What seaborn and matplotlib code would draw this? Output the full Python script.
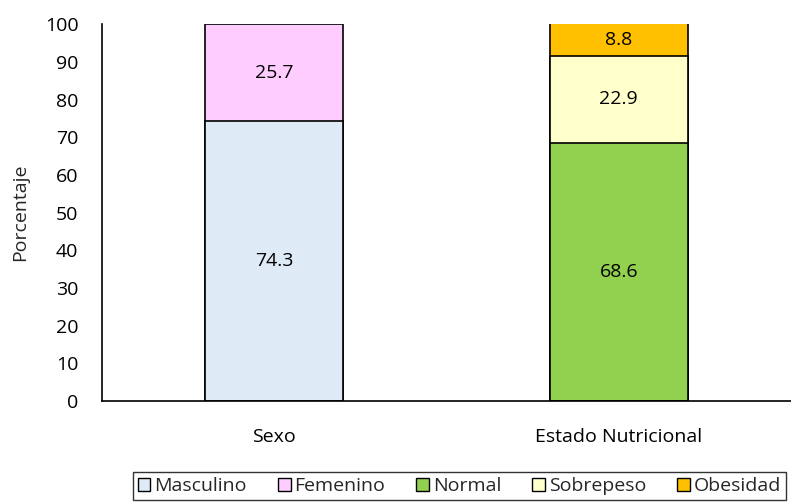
import matplotlib
matplotlib.use("Agg")
import matplotlib.pyplot as plt
from matplotlib.patches import Patch
import seaborn as sns
import pandas as pd

groups = ["Sexo", "Estado Nutricional"]
series = ["Masculino", "Femenino", "Normal", "Sobrepeso", "Obesidad"]
series_group = ["Sexo", "Sexo", "Estado Nutricional", "Estado Nutricional", "Estado Nutricional"]
values = [74.3, 25.7, 68.6, 22.9, 8.8]
colors = ["#DEEBF7", "#FFCCFF", "#92D050", "#FFFFCC", "#FFC000"]

sns.set_theme(style="white")
plt.rcParams["font.family"] = ["Open Sans", "DejaVu Sans"]
FS = 14

# Build a long table with cumulative tops for stacking
df = pd.DataFrame({"group": series_group, "serie": series, "value": values})
df["top"] = df.groupby("group")["value"].cumsum()
df["bottom"] = df["top"] - df["value"]

fig = plt.figure(figsize=(7.91, 5.04), dpi=100)
ax = fig.add_axes([0.129, 0.204, 0.871, 0.748])

# Draw tallest cumulative bars first so lower segments overlay them
for i in reversed(range(len(series))):
    sub = df[df["serie"] == series[i]]
    sns.barplot(data=sub, x="group", y="top", order=groups, color=colors[i],
                width=0.4, edgecolor="black", linewidth=1.2, saturation=1, ax=ax)

for _, row in df.iterrows():
    xi = groups.index(row["group"])
    mid = (row["bottom"] + min(row["top"], 100)) / 2
    ax.text(xi, mid, f"{row['value']:.1f}", ha="center", va="center", fontsize=FS, color="black")

ax.set_xlim(-0.5, 1.5)
ax.set_ylim(0, 100)
ax.set_yticks(range(0, 101, 10))
ax.set_xlabel("")
ax.set_ylabel("Porcentaje", fontsize=FS, labelpad=11)
ax.tick_params(axis="both", length=0, labelsize=FS, colors="black")
ax.tick_params(axis="x", pad=19)
ax.tick_params(axis="y", pad=17)
for s in ["top", "right"]:
    ax.spines[s].set_visible(False)
for s in ["left", "bottom"]:
    ax.spines[s].set_color("black")
    ax.spines[s].set_linewidth(1.2)

handles = [Patch(facecolor=c, edgecolor="black", linewidth=1) for c in colors]
leg = fig.legend(handles, series, loc="center", bbox_to_anchor=(0.581, 0.036), ncol=5,
                 frameon=True, fancybox=False, fontsize=FS, handlelength=0.65,
                 handleheight=0.65, handletextpad=0.2, columnspacing=1.6,
                 borderpad=0.25, borderaxespad=0)
leg.get_frame().set_edgecolor("black")
leg.get_frame().set_linewidth(1)

fig.savefig("out.png", dpi=100)
